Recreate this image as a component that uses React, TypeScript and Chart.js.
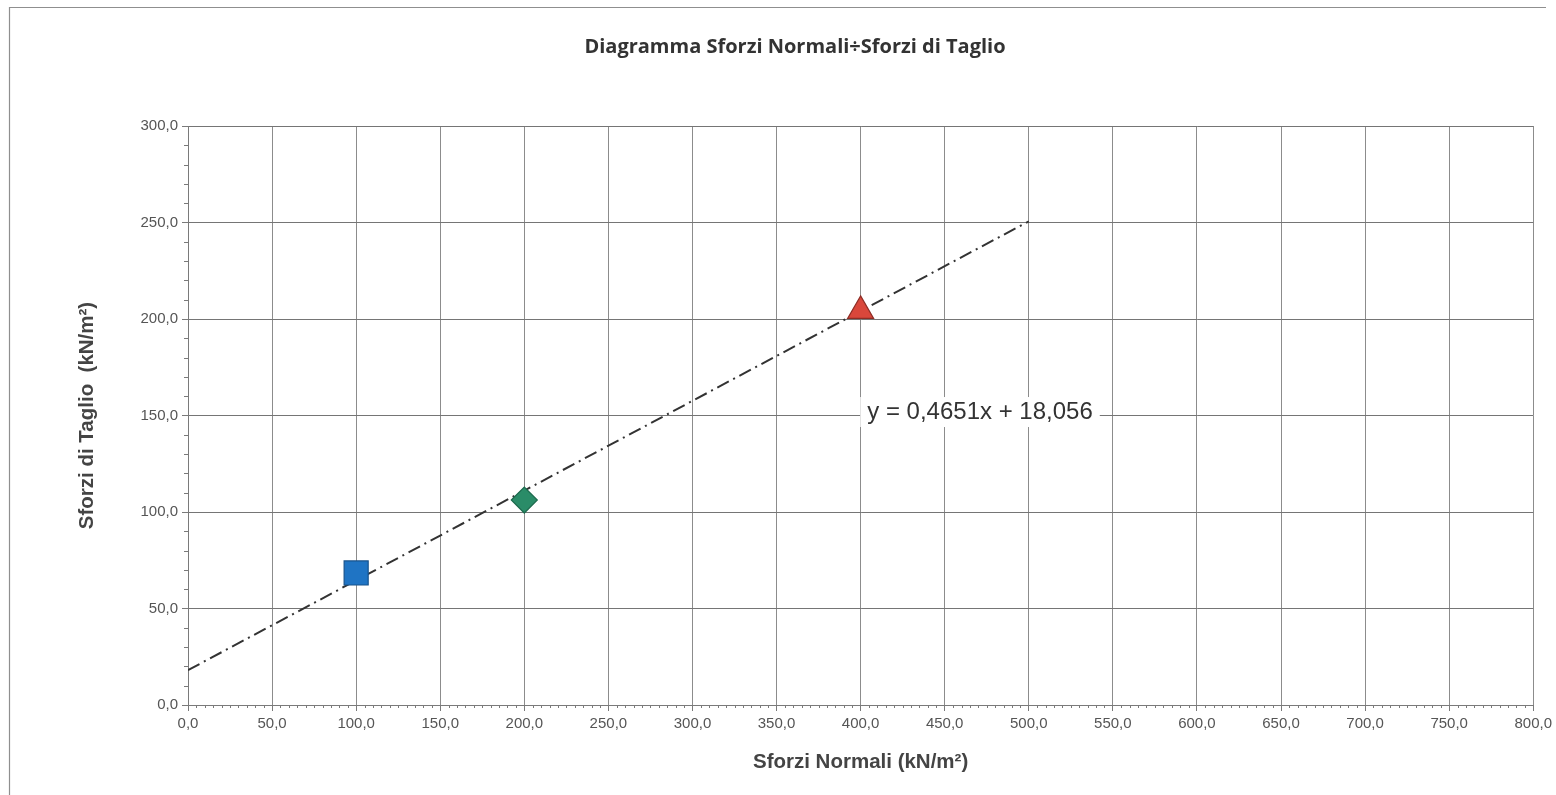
import React, { useEffect, useRef } from "react";
import { Chart, registerables } from "chart.js";

Chart.register(...registerables);

// ---- Data ----
const seriesNames = ["Prova 1", "Prova 2", "Prova 3"];
const normalStress = [100, 200, 400]; // kN/m²
const shearStress = [68.4, 106.2, 204.2]; // kN/m²
const markerStyles = ["rect", "rectRot", "triangle"];
const markerFill = ["#1f74c4", "#2a8c68", "#d9473b"];
const markerBorder = ["#17528c", "#1c6a4d", "#8e2d25"];
const markerRadius = [17, 13, 15];

const trendX = [0, 500];
const trendY = [18.056, 250.611];
const equationText = "y = 0,4651x + 18,056";

const xTicksMin = 0;
const xTicksMax = 800;
const yTicksMin = 0;
const yTicksMax = 300;

const fmt = (v: number) => v.toFixed(1).replace(".", ",");

const framePlugin = {
  id: "frame",
  beforeDraw(chart: any) {
    const ctx = chart.ctx;
    ctx.save();
    ctx.fillStyle = "#ffffff";
    ctx.fillRect(0, 0, chart.width, chart.height);
    ctx.strokeStyle = "#8f8f8f";
    ctx.lineWidth = 1.2;
    ctx.beginPath();
    ctx.moveTo(9.5, chart.height);
    ctx.lineTo(9.5, 7.5);
    ctx.lineTo(1546, 7.5);
    ctx.stroke();
    ctx.restore();
  },
};

const minorTicksPlugin = {
  id: "minorTicks",
  afterDraw(chart: any) {
    const ctx = chart.ctx;
    const xs = chart.scales.x;
    const ys = chart.scales.y;
    ctx.save();
    ctx.strokeStyle = "#7a7a7a";
    ctx.lineWidth = 1;
    ctx.beginPath();
    for (let v = xTicksMin; v <= xTicksMax; v += 5) {
      if (v % 50 === 0) continue;
      const px = Math.round(xs.getPixelForValue(v)) + 0.5;
      ctx.moveTo(px, ys.bottom);
      ctx.lineTo(px, ys.bottom + 3);
    }
    for (let v = yTicksMin; v <= yTicksMax; v += 10) {
      if (v % 50 === 0) continue;
      const py = Math.round(ys.getPixelForValue(v)) + 0.5;
      ctx.moveTo(xs.left, py);
      ctx.lineTo(xs.left - 4, py);
    }
    ctx.stroke();
    ctx.restore();
  },
};

const equationPlugin = {
  id: "equation",
  afterDatasetsDraw(chart: any) {
    const ctx = chart.ctx;
    const xs = chart.scales.x;
    const ys = chart.scales.y;
    const cx = xs.getPixelForValue(471);
    const cy = ys.getPixelForValue(151.8);
    ctx.save();
    ctx.font = "24px 'Liberation Sans', Arial, sans-serif";
    const w = ctx.measureText(equationText).width;
    ctx.fillStyle = "#ffffff";
    ctx.fillRect(cx - w / 2 - 7, cy - 15, w + 14, 30);
    ctx.fillStyle = "#333333";
    ctx.textAlign = "center";
    ctx.textBaseline = "middle";
    ctx.fillText(equationText, cx, cy);
    ctx.restore();
  },
};

export default function App() {
  const ref = useRef<HTMLCanvasElement | null>(null);

  useEffect(() => {
    if (!ref.current) return;
    const pointDatasets = normalStress.map((x, i) => ({
      type: "scatter" as const,
      label: seriesNames[i],
      data: [{ x, y: shearStress[i] }],
      pointStyle: markerStyles[i],
      pointRadius: markerRadius[i],
      pointHoverRadius: markerRadius[i],
      backgroundColor: markerFill[i],
      borderColor: markerBorder[i],
      borderWidth: 1.2,
      order: 1,
    }));
    const trendDataset = {
      type: "line" as const,
      label: "Lineare",
      data: trendX.map((x, i) => ({ x, y: trendY[i] })),
      borderColor: "#333333",
      borderWidth: 2,
      borderDash: [13, 5, 2, 5],
      pointRadius: 0,
      fill: false,
      showLine: true,
      order: 2,
    };

    const tickFont = { family: "'Liberation Sans', Arial, sans-serif", size: 15 };
    const axisTitleFont = { family: "'Liberation Sans', Arial, sans-serif", size: 20.5, weight: "bold", lineHeight: 1.2 };
    const chart = new Chart(ref.current, {
      type: "scatter",
      data: { datasets: [...pointDatasets, trendDataset] as any },
      plugins: [framePlugin, minorTicksPlugin, equationPlugin],
      options: {
        animation: false,
        responsive: false,
        maintainAspectRatio: false,
        layout: { padding: { left: 56, right: 22, top: 0, bottom: 0 } },
        plugins: {
          legend: { display: false },
          tooltip: { enabled: false },
          title: {
            display: true,
            text: "Diagramma Sforzi Normali÷Sforzi di Taglio",
            color: "#333333",
            font: { family: "'Open Sans', sans-serif", size: 20, weight: "bold", lineHeight: 1.2 },
            padding: { top: 35, bottom: 67 },
          },
        },
        scales: {
          x: {
            type: "linear",
            min: xTicksMin,
            max: xTicksMax,
            ticks: {
              stepSize: 50,
              color: "#555555",
              font: tickFont,
              padding: 4,
              maxRotation: 0,
              autoSkip: false,
              callback: (v: any) => fmt(Number(v)),
            },
            grid: { color: "#8c8c8c", lineWidth: 1, tickLength: 6, tickColor: "#7a7a7a" },
            border: { color: "#7a7a7a", width: 1 },
            title: {
              display: true,
              text: "Sforzi Normali (kN/m²)",
              color: "#444444",
              font: axisTitleFont,
              padding: { top: 0, bottom: 20 },
            },
            afterFit: (s: any) => {
              s.height = 90;
            },
          },
          y: {
            type: "linear",
            min: yTicksMin,
            max: yTicksMax,
            ticks: {
              stepSize: 50,
              color: "#555555",
              font: tickFont,
              padding: 4,
              callback: (v: any) => fmt(Number(v)),
            },
            grid: { color: "#757575", lineWidth: 1, tickLength: 6, tickColor: "#7a7a7a" },
            border: { color: "#7a7a7a", width: 1 },
            title: {
              display: true,
              text: "Sforzi di Taglio  (kN/m²)",
              color: "#444444",
              font: axisTitleFont,
              padding: { top: 19, bottom: 0 },
            },
            afterFit: (s: any) => {
              s.width = 132;
            },
          },
        },
      } as any,
    });
    return () => chart.destroy();
  }, []);

  return (
    <div style={{ position: "absolute", left: 0, top: 0, width: 1556, height: 795 }}>
      <canvas ref={ref} width={1556} height={795} style={{ display: "block", width: 1556, height: 795 }} />
    </div>
  );
}
